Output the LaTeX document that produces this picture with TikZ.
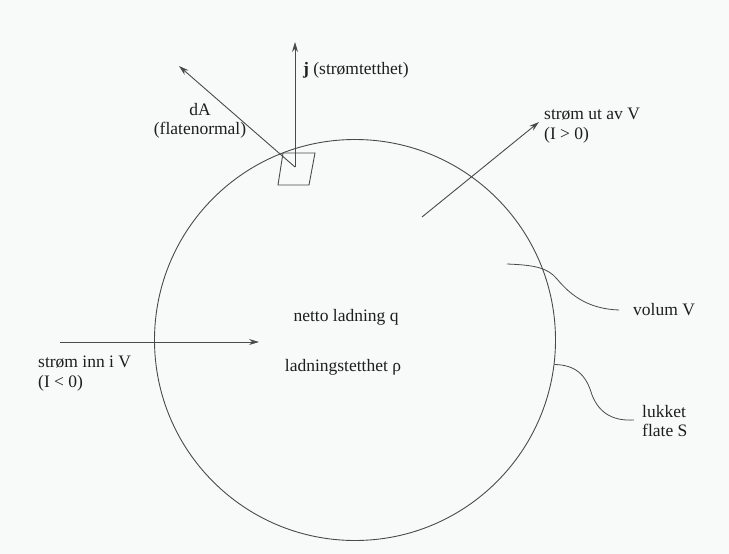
\documentclass[tikz,border=0pt]{standalone}
\usepackage{fontspec}
\setmainfont{Liberation Serif}
\usepackage{tikz}
\usetikzlibrary{arrows.meta,positioning,calc}
\usepackage{xcolor}
\definecolor{paper}{HTML}{F8FAF9}
\definecolor{ink}{HTML}{1E1E1E}
\definecolor{wire}{HTML}{4A4A4A}

\begin{document}
\begin{tikzpicture}[
  x=1pt, y=-1pt,
  font=\fontsize{17.5}{19.5}\selectfont,
  >={Stealth[length=10pt,width=6pt]},
  wireline/.style={
    draw=wire,
    line width=0.9pt
  },
  flowarrow/.style={
    ->,
    draw=wire,
    line width=0.9pt
  },
  leader/.style={
    draw=wire,
    line width=0.8pt
  },
  textlabel/.style={
    text=ink,
    inner sep=1pt,
    align=left
  }
]

  % background / page size
  \fill[paper] (0,0) rectangle (729,554);
  \useasboundingbox (0,0) rectangle (729,554);

  % =====================================================
  % VOLUME V WITH CLOSED SURFACE S
  % =====================================================
  \node[circle, wireline, minimum size=401pt, inner sep=0pt] (vol) at (355,340) {};

  \node[textlabel, align=center] (charge) at (346,317) {netto ladning q};
  \node[textlabel, align=center] (density) at (343,367) {ladningstetthet ρ};

  % =====================================================
  % SURFACE ELEMENT dA AND CURRENT DENSITY j
  % =====================================================
  \coordinate (p1) at (283,153);
  \coordinate (p2) at (315,153);
  \coordinate (p3) at (309,185);
  \coordinate (p4) at (278,185);
  \draw[wireline] (p1) -- (p2) -- (p3) -- (p4) -- cycle;
  \coordinate (patch) at (295,167);

  \coordinate (jtip) at (295,42);
  \coordinate (ntip) at (179,66);
  \draw[flowarrow] (patch) -- (jtip);
  \draw[flowarrow] (patch) -- (ntip);

  \node[textlabel, anchor=west] (jlab) at (302,70) {\textbf{j} (strømtetthet)};
  \node[textlabel, align=center] (dalab) at (200,121) {dA\\(flatenormal)};

  % =====================================================
  % CURRENT OUT / CURRENT IN
  % =====================================================
  \coordinate (outstart) at (422,217);
  \coordinate (outtip) at (539,122);
  \draw[flowarrow] (outstart) -- (outtip);
  \node[textlabel, anchor=north west] (outlab) at (543,107) {strøm ut av V\\(I > 0)};

  \coordinate (instart) at (60,342);
  \coordinate (intip) at (259,342);
  \draw[flowarrow] (instart) -- (intip);
  \node[textlabel, anchor=north west] (inlab) at (37,355) {strøm inn i V\\(I < 0)};

  % =====================================================
  % LEADERS: volum V, lukket flate S
  % =====================================================
  \node[textlabel, anchor=west] (vollab) at (632,310) {volum V};
  \node[textlabel, anchor=north west] (surflab) at (641,404) {lukket\\flate S};

  \coordinate (volin) at (507,264);
  \coordinate (volend) at ($(vollab.west)+(-13,0)$);
  \coordinate (surfend) at ($(surflab.north west)+(-7,16)$);
  \draw[leader] (volin) .. controls (535,265) and (548,268) .. (557,279)
    .. controls (572,297) and (590,309) .. (volend);
  \draw[leader] (vol.-7.7) .. controls (575,365) and (586,374) .. (592,395)
    .. controls (600,415) and (615,421) .. (surfend);

\end{tikzpicture}
\end{document}
